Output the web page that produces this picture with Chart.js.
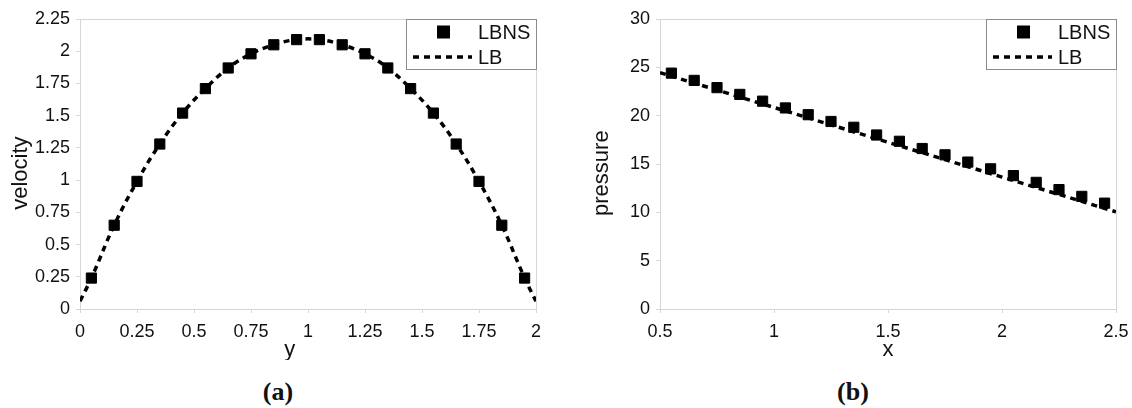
<!DOCTYPE html>
<html lang="en">
<head>
<meta charset="UTF-8">
<title>Velocity and pressure profiles</title>
<script src="https://cdn.jsdelivr.net/npm/chart.js"></script>
<style>
  body { margin: 0; background: #fff; width: 1132px; height: 408px; position: relative; overflow: hidden; }
  .panel { position: absolute; top: 0; height: 360px; }
  #panelA { left: 0; width: 560px; }
  #panelB { left: 581px; width: 556px; }
  .caption { position: absolute; top: 379px; font: bold 26px/1 "Liberation Serif", serif; color: #111; transform: translateX(-50%); }
</style>
</head>
<body>
<div class="panel" id="panelA"><canvas id="chartA"></canvas></div>
<div class="panel" id="panelB"><canvas id="chartB"></canvas></div>
<div class="caption" style="left:278px">(a)</div>
<div class="caption" style="left:853px">(b)</div>
<script>
// (a) velocity across the channel
const yPos = [0.05, 0.15, 0.25, 0.35, 0.45, 0.55, 0.65, 0.75, 0.85, 0.95,
              1.05, 1.15, 1.25, 1.35, 1.45, 1.55, 1.65, 1.75, 1.85, 1.95];
const velLBNS = [0.24, 0.65, 0.99, 1.28, 1.52, 1.71, 1.87, 1.98, 2.05, 2.09,
                 2.09, 2.05, 1.98, 1.87, 1.71, 1.52, 1.28, 0.99, 0.65, 0.24];
const yLine = [0, 0.05, 0.15, 0.25, 0.35, 0.45, 0.55, 0.65, 0.75, 0.85, 0.95,
               1.05, 1.15, 1.25, 1.35, 1.45, 1.55, 1.65, 1.75, 1.85, 1.95, 2];
const velLB = [0.06, 0.24, 0.65, 0.99, 1.28, 1.52, 1.71, 1.87, 1.98, 2.05, 2.09,
               2.09, 2.05, 1.98, 1.87, 1.71, 1.52, 1.28, 0.99, 0.65, 0.24, 0.06];
const xTicksA = [0, 0.25, 0.5, 0.75, 1, 1.25, 1.5, 1.75, 2];
const yTicksA = [0, 0.25, 0.5, 0.75, 1, 1.25, 1.5, 1.75, 2, 2.25];

// (b) pressure along the channel
const xPos = [0.55, 0.65, 0.75, 0.85, 0.95, 1.05, 1.15, 1.25, 1.35, 1.45,
              1.55, 1.65, 1.75, 1.85, 1.95, 2.05, 2.15, 2.25, 2.35, 2.45];
const presLBNS = [24.4, 23.65, 22.9, 22.2, 21.5, 20.8, 20.1, 19.4, 18.8, 18.0,
                  17.35, 16.6, 15.95, 15.2, 14.5, 13.8, 13.1, 12.35, 11.65, 10.95];
const xLine = [0.5, 1, 1.5, 2, 2.5];
const presLB = [24.45, 20.85, 17.25, 13.65, 10.05];
const xTicksB = [0.5, 1, 1.5, 2, 2.5];
const yTicksB = [0, 5, 10, 15, 20, 25, 30];

const FONT = '"Liberation Sans", Arial, sans-serif';
const TEXT = '#111';
const AXIS = '#d6d6d6';

const pts = (xs, ys) => xs.map((x, i) => ({ x: x, y: ys[i] }));

// light frame round the plot area, and a boxed legend in its top right corner
const frameAndLegend = {
    id: 'frameAndLegend',
    beforeDatasetsDraw(chart) {
        const { ctx, chartArea: a } = chart;
        ctx.save();
        ctx.strokeStyle = AXIS;
        ctx.lineWidth = 1;
        ctx.strokeRect(a.left + 0.5, a.top + 0.5, a.right - a.left, a.bottom - a.top);
        ctx.restore();
    },
    afterDraw(chart) {
        const { ctx, chartArea: a } = chart;
        const w = 130, h = 50;
        const x0 = a.right - w, y0 = a.top;
        ctx.save();
        ctx.fillStyle = '#fff';
        ctx.fillRect(x0, y0, w, h);
        ctx.strokeStyle = '#8c8c8c';
        ctx.lineWidth = 1;
        ctx.strokeRect(x0 + 0.5, y0 + 0.5, w, h);
        ctx.font = '20px ' + FONT;
        ctx.textBaseline = 'middle';
        chart.data.datasets.forEach((ds, i) => {
            const cy = y0 + 13 + i * 25;
            if (ds.showLine) {
                ctx.strokeStyle = ds.borderColor;
                ctx.lineWidth = ds.borderWidth;
                ctx.setLineDash(ds.borderDash);
                ctx.beginPath();
                ctx.moveTo(x0 + 7, cy);
                ctx.lineTo(x0 + 66, cy);
                ctx.stroke();
                ctx.setLineDash([]);
            } else {
                ctx.fillStyle = ds.backgroundColor;
                ctx.fillRect(x0 + 31, cy - 6.5, 13, 13);
            }
            ctx.fillStyle = TEXT;
            ctx.fillText(ds.label, x0 + 72, cy + 1);
        });
        ctx.restore();
    }
};

// trailing spaces nudge the centred titles the way the original sits
function axis(tickValues, title, isX, size) {
    return {
        type: 'linear',
        min: tickValues[0],
        max: tickValues[tickValues.length - 1],
        afterBuildTicks: s => { s.ticks = tickValues.map(v => ({ value: v })); },
        afterFit: s => { if (isX) s.height = size; else s.width = size; },
        border: { display: true, color: AXIS },
        grid: { drawOnChartArea: false, tickLength: 4, color: AXIS },
        ticks: {
            font: { family: FONT, size: 18 },
            color: TEXT,
            padding: isX ? 8 : 6,
            autoSkip: false,
            maxRotation: 0,
            callback: v => String(v)
        },
        title: {
            display: true,
            text: title,
            color: TEXT,
            font: { family: FONT, size: 22 },
            padding: isX ? { top: 0, bottom: -4 } : { top: 8, bottom: 0 }
        }
    };
}

function makeChart(id, lbns, lb, tension, xTicks, yTicks, xTitle, yTitle, yWidth, padRight) {
    return new Chart(document.getElementById(id), {
        type: 'scatter',
        data: {
            datasets: [
                {
                    label: 'LBNS',
                    data: lbns,
                    showLine: false,
                    pointStyle: 'rect',
                    pointRadius: 7.2,
                    pointBorderWidth: 1,
                    backgroundColor: '#000',
                    borderColor: '#000'
                },
                {
                    label: 'LB',
                    data: lb,
                    showLine: true,
                    pointRadius: 0,
                    borderColor: '#000',
                    borderWidth: 3.5,
                    borderDash: [6, 5],
                    tension: tension
                }
            ]
        },
        options: {
            responsive: true,
            maintainAspectRatio: false,
            animation: false,
            devicePixelRatio: 1,
            layout: { padding: { top: 19, right: padRight, bottom: 1, left: 0 } },
            plugins: { legend: { display: false }, tooltip: { enabled: false } },
            scales: {
                x: axis(xTicks, xTitle, true, 50),
                y: axis(yTicks, yTitle, false, yWidth)
            }
        },
        plugins: [frameAndLegend]
    });
}

makeChart('chartA', pts(yPos, velLBNS), pts(yLine, velLB), 0.4,
          xTicksA, yTicksA, 'y      ', 'velocity   ', 80, 24);
makeChart('chartB', pts(xPos, presLBNS), pts(xLine, presLB), 0,
          xTicksB, yTicksB, 'x', 'pressure   ', 79, 21);
</script>
</body>
</html>
